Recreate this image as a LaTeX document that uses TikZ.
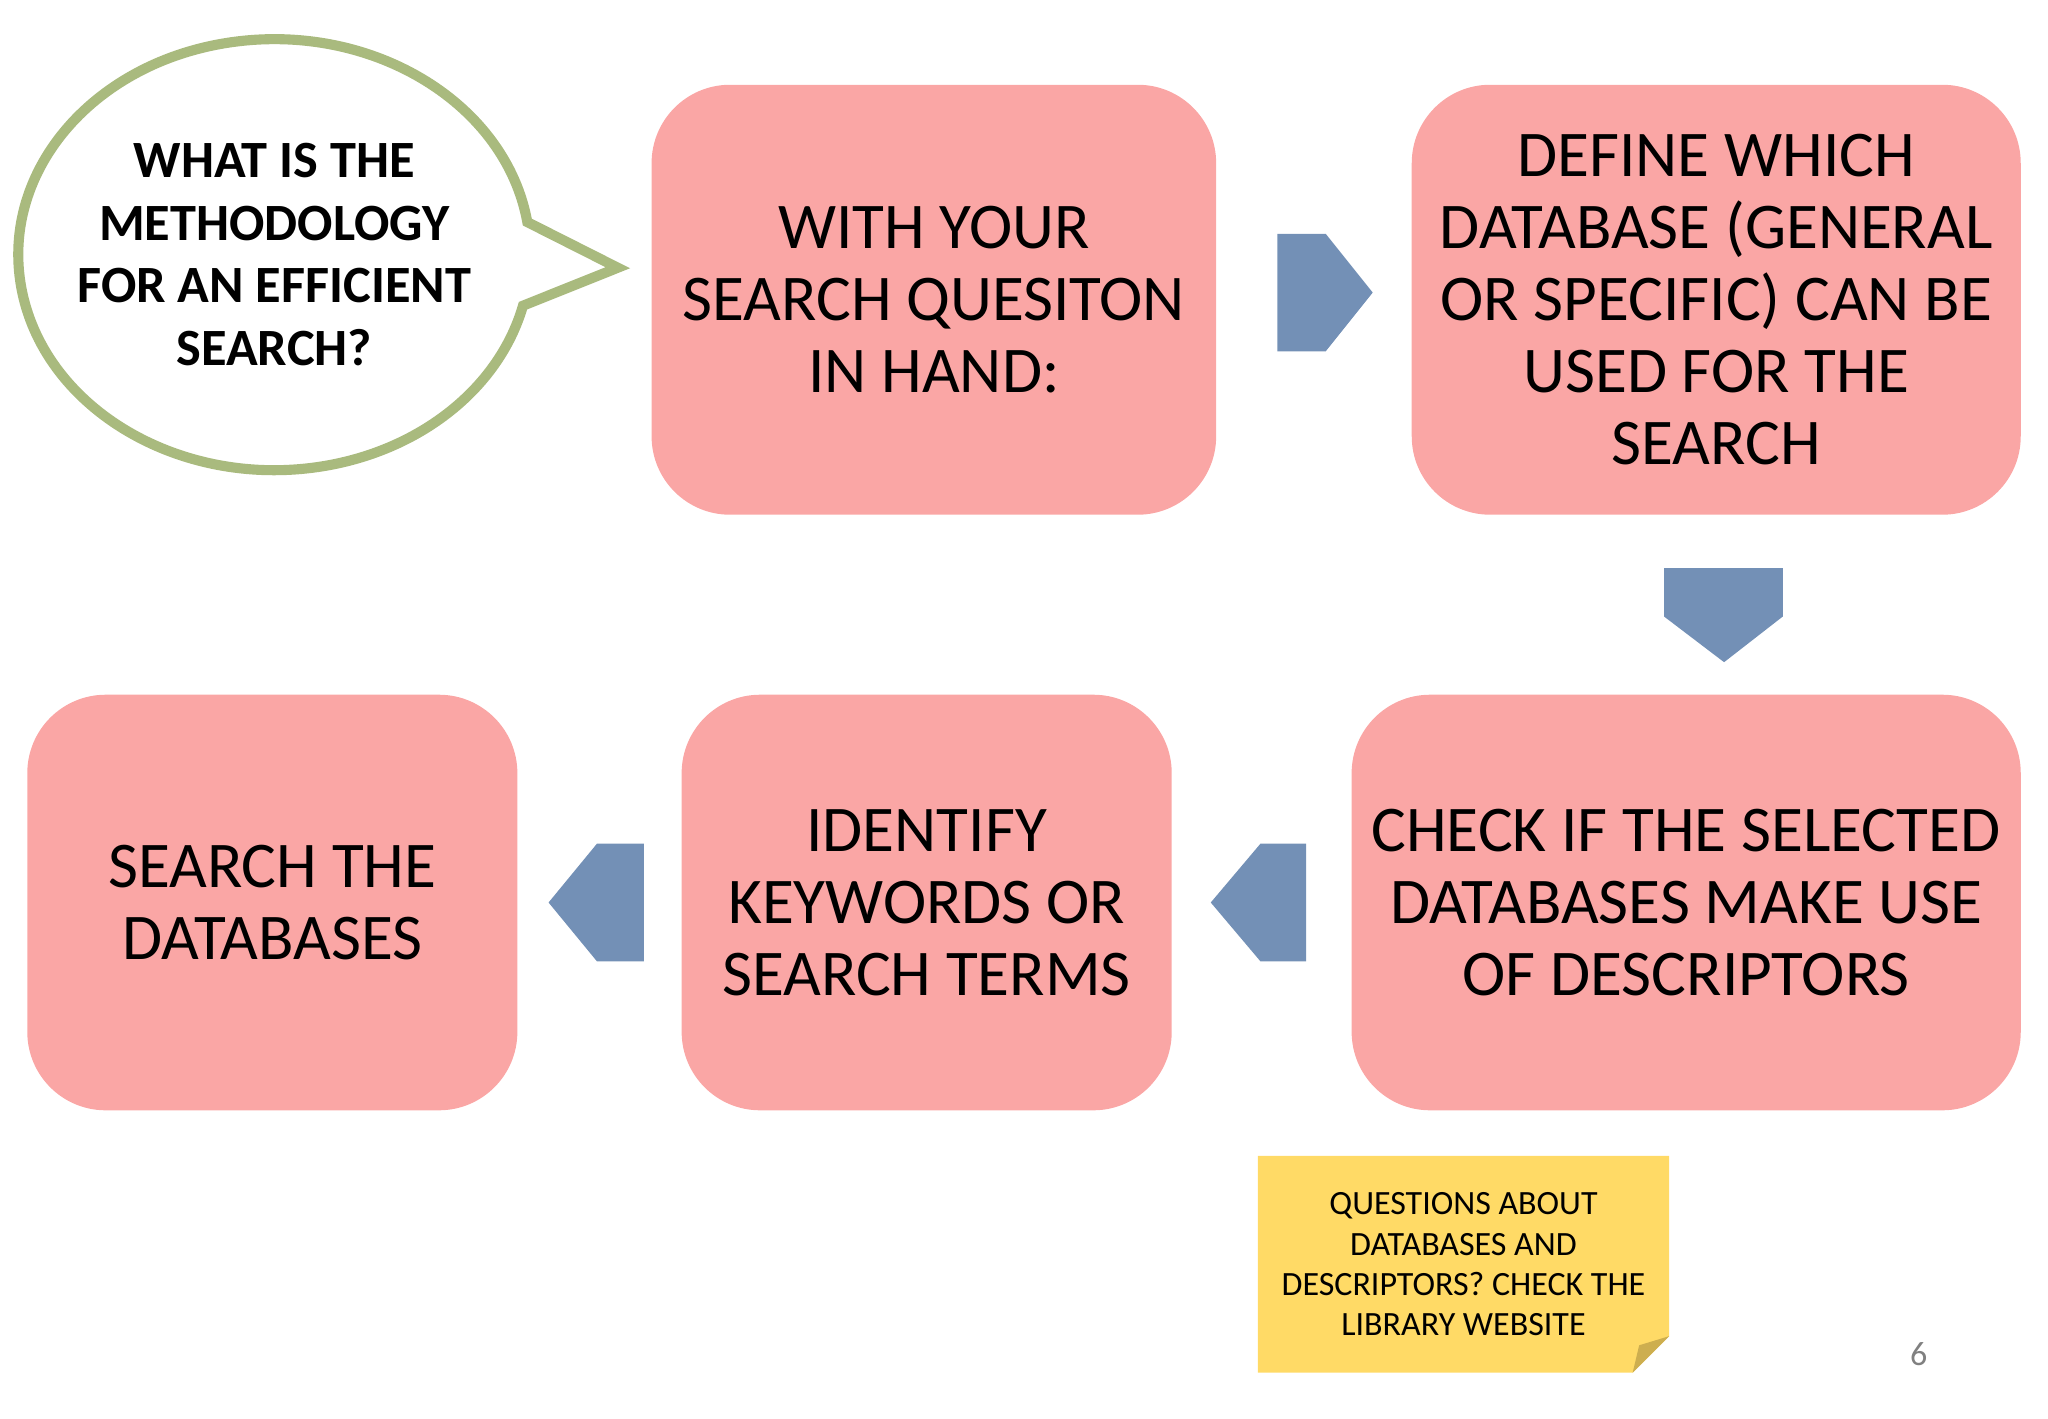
\documentclass[tikz,border=0pt]{standalone}
\usepackage{fontspec}
\setmainfont{Carlito}
\usetikzlibrary{calc}
\definecolor{boxpink}{HTML}{FAA6A5}
\definecolor{arrblue}{HTML}{7390B6}
\definecolor{bubgreen}{HTML}{A9BA7E}
\definecolor{noteyel}{HTML}{FFDA66}
\definecolor{notefold}{HTML}{CDAE4F}
\tikzset{
 stepbox/.style={fill=boxpink, rounded corners=0.6cm, align=center, inner sep=0pt,
   font=\fontsize{14.2}{15.7}\selectfont},
 chev/.style={fill=arrblue},
}
\begin{document}
\begin{tikzpicture}[x=0.01cm,y=0.01cm]
\useasboundingbox (0,0) rectangle (1568,-1086);
% bubble
\draw[bubgreen, line width=2.2pt, fill=white]
  (473,-205) -- ($(210,-195)+(8.7:196 and 165)$)
  arc[start angle=8.7, end angle=346.3, x radius=196, y radius=165] -- cycle;
\node[align=center, font=\bfseries\fontsize{11.4}{13.6}\selectfont] (q) at (210,-195)
  {WHAT IS THE\\METHODOLOGY\\FOR AN EFFICIENT\\SEARCH?};
% boxes
\node[stepbox, minimum width=4.32cm, minimum height=3.29cm] (b1) at (715,-229.5)
  {WITH YOUR\\SEARCH QUESITON\\IN HAND:};
\node[stepbox, minimum width=4.66cm, minimum height=3.29cm] (b2) at (1314,-229.5)
  {DEFINE WHICH\\DATABASE (GENERAL\\OR SPECIFIC) CAN BE\\USED FOR THE\\SEARCH};
\node[stepbox, minimum width=5.12cm, minimum height=3.18cm] (b3) at (1291,-691)
  {CHECK IF THE SELECTED\\DATABASES MAKE USE\\OF DESCRIPTORS};
\node[stepbox, minimum width=3.75cm, minimum height=3.18cm] (b4) at (709.5,-691)
  {IDENTIFY\\KEYWORDS OR\\SEARCH TERMS};
\node[stepbox, minimum width=3.75cm, minimum height=3.18cm] (b5) at (208.5,-691)
  {SEARCH THE\\DATABASES};
% chevrons
\fill[chev] (978,-179) -- (1015,-179) -- (1051,-224) -- (1015,-269) -- (978,-269) -- cycle;
\fill[chev] (1274,-435) -- (1365,-435) -- (1365,-472) -- (1320,-507) -- (1274,-472) -- cycle;
\fill[chev] (1000,-646) -- (1000,-736) -- (965,-736) -- (927,-691) -- (965,-646) -- cycle;
\fill[chev] (493,-646) -- (493,-736) -- (457,-736) -- (420,-691) -- (457,-646) -- cycle;
% note
\fill[noteyel] (963,-885) -- (1278,-885) -- (1278,-1023) -- (1250,-1051) -- (963,-1051) -- cycle;
\fill[notefold] (1278,-1023) -- (1250,-1051) -- (1255,-1030) -- cycle;
\node[align=center, font=\fontsize{7.4}{8.8}\selectfont] (n) at (1120.5,-968)
  {QUESTIONS ABOUT\\DATABASES AND\\DESCRIPTORS? CHECK THE\\LIBRARY WEBSITE};
\node[text=gray, font=\fontsize{7.4}{8.8}\selectfont] (pg) at (1469,-1037) {6};
\end{tikzpicture}
\end{document}
